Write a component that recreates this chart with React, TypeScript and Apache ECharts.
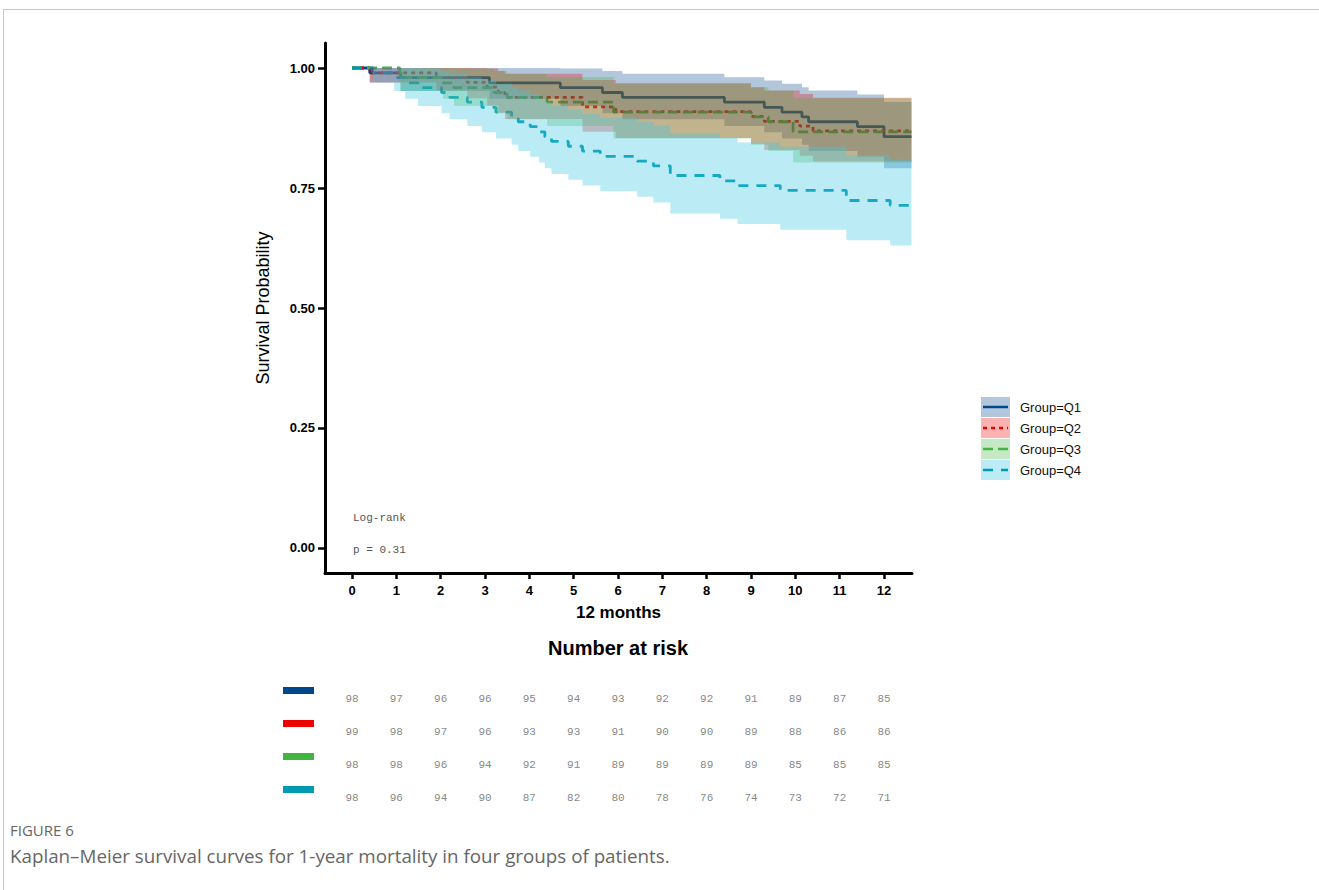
import React, { useEffect, useRef } from "react";
import * as echarts from "echarts";

// ---------- data ----------
const GROUP_NAMES = ["Group=Q1", "Group=Q2", "Group=Q3", "Group=Q4"];
const LINE_COLORS = ["#00468B", "#ED0000", "#42B540", "#0099B4"];
const BAND_FILLS = [
  "rgba(0,70,139,0.3)",
  "rgba(237,0,0,0.3)",
  "rgba(66,181,64,0.3)",
  "rgba(60,200,230,0.35)",
];
const LINE_DASHES: (number[] | "solid")[] = ["solid", [4, 4], [10, 5], [10, 8]];

const END_TIME = 12.62;
const X_TICKS = [0, 1, 2, 3, 4, 5, 6, 7, 8, 9, 10, 11, 12];
const Y_TICKS = [0, 0.25, 0.5, 0.75, 1];

const Q1_TIME = [0, 0.4, 1.1, 3.1, 4.7, 5.65, 6.1, 8.4, 9.3, 9.7, 10.15, 10.3, 11.4, 12.0];
const Q1_SURV = [1, 0.99, 0.98, 0.969, 0.959, 0.949, 0.939, 0.929, 0.918, 0.908, 0.898, 0.888, 0.878, 0.857];
const Q1_LOWER = [1, 0.97, 0.952, 0.936, 0.921, 0.906, 0.893, 0.879, 0.866, 0.853, 0.84, 0.827, 0.815, 0.791];
const Q1_UPPER = [1, 1, 1, 1, 0.999, 0.994, 0.988, 0.981, 0.974, 0.967, 0.96, 0.953, 0.945, 0.929];

const Q2_TIME = [0, 0.4, 1.9, 2.6, 3.05, 3.3, 3.45, 5.2, 5.95, 9.0, 9.3, 10.1, 10.4];
const Q2_SURV = [1, 0.99, 0.98, 0.97, 0.96, 0.949, 0.939, 0.919, 0.909, 0.899, 0.889, 0.879, 0.869];
const Q2_LOWER = [1, 0.97, 0.953, 0.937, 0.922, 0.907, 0.894, 0.867, 0.854, 0.842, 0.829, 0.817, 0.805];
const Q2_UPPER = [1, 1, 1, 1, 0.999, 0.994, 0.988, 0.975, 0.968, 0.96, 0.953, 0.946, 0.938];

const Q3_TIME = [0, 1.08, 2.05, 2.3, 3.2, 3.5, 4.4, 5.9, 9.0, 9.39, 9.95];
const Q3_SURV = [1, 0.98, 0.969, 0.959, 0.949, 0.939, 0.929, 0.908, 0.898, 0.888, 0.867];
const Q3_LOWER = [1, 0.952, 0.936, 0.921, 0.906, 0.893, 0.879, 0.853, 0.84, 0.827, 0.803];
const Q3_UPPER = [1, 1, 1, 0.999, 0.994, 0.988, 0.981, 0.967, 0.96, 0.953, 0.937];

const Q4_TIME = [0, 0.47, 0.95, 1.2, 1.49, 2.02, 2.2, 2.6, 2.93, 3.25, 3.6, 3.75, 4.02, 4.22, 4.35, 4.5, 4.88, 5.2, 5.6, 6.43, 6.8, 7.18, 8.3, 8.7, 9.66, 11.15, 12.14];
const Q4_SURV = [1, 0.99, 0.98, 0.969, 0.959, 0.949, 0.939, 0.929, 0.918, 0.908, 0.898, 0.888, 0.878, 0.867, 0.857, 0.847, 0.837, 0.827, 0.816, 0.806, 0.796, 0.776, 0.765, 0.755, 0.745, 0.724, 0.714];
const Q4_LOWER = [1, 0.97, 0.952, 0.936, 0.921, 0.906, 0.893, 0.879, 0.866, 0.853, 0.84, 0.827, 0.815, 0.803, 0.791, 0.779, 0.767, 0.755, 0.743, 0.732, 0.72, 0.697, 0.686, 0.675, 0.663, 0.641, 0.63];
const Q4_UPPER = [1, 1, 1, 1, 0.999, 0.994, 0.988, 0.981, 0.974, 0.967, 0.96, 0.953, 0.945, 0.937, 0.929, 0.921, 0.913, 0.905, 0.897, 0.888, 0.88, 0.863, 0.854, 0.845, 0.836, 0.819, 0.81];

const RISK_TIMES = [0, 1, 2, 3, 4, 5, 6, 7, 8, 9, 10, 11, 12];
const Q1_RISK = [98, 97, 96, 96, 95, 94, 93, 92, 92, 91, 89, 87, 85];
const Q2_RISK = [99, 98, 97, 96, 93, 93, 91, 90, 90, 89, 88, 86, 86];
const Q3_RISK = [98, 98, 96, 94, 92, 91, 89, 89, 89, 89, 85, 85, 85];
const Q4_RISK = [98, 96, 94, 90, 87, 82, 80, 78, 76, 74, 73, 72, 71];

const LOG_RANK_LINES = ["Log-rank", "p = 0.31"];
const CAPTION_LABEL = "FIGURE 6";
const CAPTION_TEXT = "Kaplan\u2013Meier survival curves for 1-year mortality in four groups of patients.";

// ---------- helpers ----------
const GROUPS = [
  { time: Q1_TIME, surv: Q1_SURV, lower: Q1_LOWER, upper: Q1_UPPER, risk: Q1_RISK },
  { time: Q2_TIME, surv: Q2_SURV, lower: Q2_LOWER, upper: Q2_UPPER, risk: Q2_RISK },
  { time: Q3_TIME, surv: Q3_SURV, lower: Q3_LOWER, upper: Q3_UPPER, risk: Q3_RISK },
  { time: Q4_TIME, surv: Q4_SURV, lower: Q4_LOWER, upper: Q4_UPPER, risk: Q4_RISK },
];

const SANS = '"Liberation Sans", Arial, sans-serif';
const MONO = '"Liberation Mono", monospace';

function buildOption(): any {
  const series: any[] = [];
  GROUPS.forEach((g, gi) => {
    const last = g.surv[g.surv.length - 1];
    series.push({
      type: "line",
      name: GROUP_NAMES[gi],
      xAxisIndex: 0,
      yAxisIndex: 0,
      z: 1,
      step: "end",
      symbol: "none",
      showSymbol: false,
      silent: true,
      data: g.time.map((t, i) => [t, g.surv[i]]).concat([[END_TIME, last]]),
      lineStyle: { color: LINE_COLORS[gi], width: 2.8, type: LINE_DASHES[gi] },
    });
    series.push({
      type: "custom",
      name: GROUP_NAMES[gi] + " CI",
      xAxisIndex: 0,
      yAxisIndex: 0,
      z: 3,
      silent: true,
      data: [[0, 1]],
      renderItem: (params: any, api: any) => {
        const pts: number[][] = [];
        const n = g.time.length;
        for (let i = 0; i < n; i++) {
          const t1 = i + 1 < n ? g.time[i + 1] : END_TIME;
          pts.push(api.coord([g.time[i], g.upper[i]]));
          pts.push(api.coord([t1, g.upper[i]]));
        }
        for (let i = n - 1; i >= 0; i--) {
          const t1 = i + 1 < n ? g.time[i + 1] : END_TIME;
          pts.push(api.coord([t1, g.lower[i]]));
          pts.push(api.coord([g.time[i], g.lower[i]]));
        }
        return { type: "polygon", shape: { points: pts }, style: { fill: BAND_FILLS[gi], stroke: null } };
      },
    });
  });

  GROUPS.forEach((g, gi) => {
    series.push({
      type: "scatter",
      name: GROUP_NAMES[gi] + " risk",
      xAxisIndex: 1,
      yAxisIndex: 1,
      symbol: "circle",
      symbolSize: 1,
      silent: true,
      itemStyle: { color: "rgba(0,0,0,0)" },
      data: RISK_TIMES.map((t, i) => [t, gi, g.risk[i]]),
      label: {
        show: true,
        position: "inside",
        formatter: (p: any) => String(p.value[2]),
        fontFamily: MONO,
        fontSize: 11,
        color: "#666",
      },
    });
  });

  const rich: any = {};
  LINE_COLORS.forEach((c, i) => {
    rich["q" + i] = { width: 31, height: 7, backgroundColor: c };
  });

  const graphic: any[] = [
    { type: "line", shape: { x1: 3, y1: 9.5, x2: 1319, y2: 9.5 }, style: { stroke: "#c8c8c8", lineWidth: 1 }, silent: true },
    { type: "line", shape: { x1: 3.5, y1: 9, x2: 3.5, y2: 890 }, style: { stroke: "#c8c8c8", lineWidth: 1 }, silent: true },
    { type: "text", x: 353, y: 518, style: { text: LOG_RANK_LINES[0], font: `11px ${MONO}`, fill: "#555", verticalAlign: "middle" } },
    { type: "text", x: 353, y: 550, style: { text: LOG_RANK_LINES[1], font: `11px ${MONO}`, fill: "#555", verticalAlign: "middle" } },
    { type: "text", x: 618, y: 648, style: { text: "Number at risk", font: `bold 20px ${SANS}`, fill: "#000", align: "center", verticalAlign: "middle" } },
    { type: "text", x: 10, y: 830, style: { text: CAPTION_LABEL, font: `15px "Open Sans", sans-serif`, fill: "#666", verticalAlign: "middle" } },
    { type: "text", x: 10, y: 856, style: { text: CAPTION_TEXT, font: `18.8px "Open Sans", sans-serif`, fill: "#666", verticalAlign: "middle" } },
  ];
  GROUP_NAMES.forEach((name, i) => {
    const top = 397 + 21 * i;
    graphic.push({ type: "rect", shape: { x: 981, y: top, width: 29, height: 20 }, style: { fill: BAND_FILLS[i] }, z: 100 });
    graphic.push({
      type: "line",
      shape: { x1: 983, y1: top + 10, x2: 1008, y2: top + 10 },
      style: { stroke: LINE_COLORS[i], lineWidth: 2.5, lineDash: LINE_DASHES[i] === "solid" ? null : LINE_DASHES[i] },
      z: 101,
    });
    graphic.push({ type: "text", x: 1020, y: top + 10, style: { text: name, font: `13px ${SANS}`, fill: "#111", verticalAlign: "middle" }, z: 101 });
  });

  return {
    animation: false,
    backgroundColor: "#fff",
    grid: [
      { left: 325, top: 43, width: 587, height: 530 },
      { left: 325, top: 682, width: 587, height: 132 },
    ],
    xAxis: [
      {
        type: "value",
        gridIndex: 0,
        min: -0.609,
        max: 12.632,
        axisLine: { onZero: false, lineStyle: { color: "#000", width: 3 } },
        axisTick: { show: true, length: 6, customValues: X_TICKS, lineStyle: { color: "#000", width: 2.5 } },
        axisLabel: { customValues: X_TICKS, fontFamily: SANS, fontWeight: "bold", fontSize: 13, color: "#000", margin: 11 },
        splitLine: { show: false },
        name: "12 months",
        nameLocation: "middle",
        nameGap: 31,
        nameTextStyle: { fontFamily: SANS, fontWeight: "bold", fontSize: 17, color: "#000" },
      },
      { type: "value", gridIndex: 1, min: -0.609, max: 12.632, show: false },
    ],
    yAxis: [
      {
        type: "value",
        gridIndex: 0,
        min: -0.0521,
        max: 1.0521,
        axisLine: { show: true, onZero: false, lineStyle: { color: "#000", width: 3 } },
        axisTick: { show: true, length: 7, customValues: Y_TICKS, lineStyle: { color: "#000", width: 2.5 } },
        axisLabel: {
          customValues: Y_TICKS,
          formatter: (v: number) => v.toFixed(2),
          fontFamily: SANS,
          fontWeight: "bold",
          fontSize: 13,
          color: "#000",
          margin: 10,
        },
        splitLine: { show: false },
        name: "Survival Probability",
        nameLocation: "middle",
        nameRotate: 90,
        nameGap: 53,
        nameTextStyle: { fontFamily: SANS, fontSize: 18, color: "#000" },
      },
      {
        type: "category",
        gridIndex: 1,
        data: ["Q1", "Q2", "Q3", "Q4"],
        inverse: true,
        axisLine: { show: false },
        axisTick: { show: false },
        splitLine: { show: false },
        axisLabel: {
          margin: 11,
          formatter: (_v: string, i: number) => `{q${i}|}`,
          rich,
          padding: [0, 0, 16, 0],
        },
      },
    ],
    series,
    graphic,
  };
}

export default function App() {
  const ref = useRef<HTMLDivElement>(null);
  useEffect(() => {
    if (!ref.current) return;
    const chart = echarts.init(ref.current, undefined, { renderer: "svg" });
    chart.setOption(buildOption());
    return () => chart.dispose();
  }, []);
  return (
    <div
      ref={ref}
      style={{ position: "fixed", left: 0, top: 0, width: 1319, height: 890, background: "#fff" }}
    />
  );
}
